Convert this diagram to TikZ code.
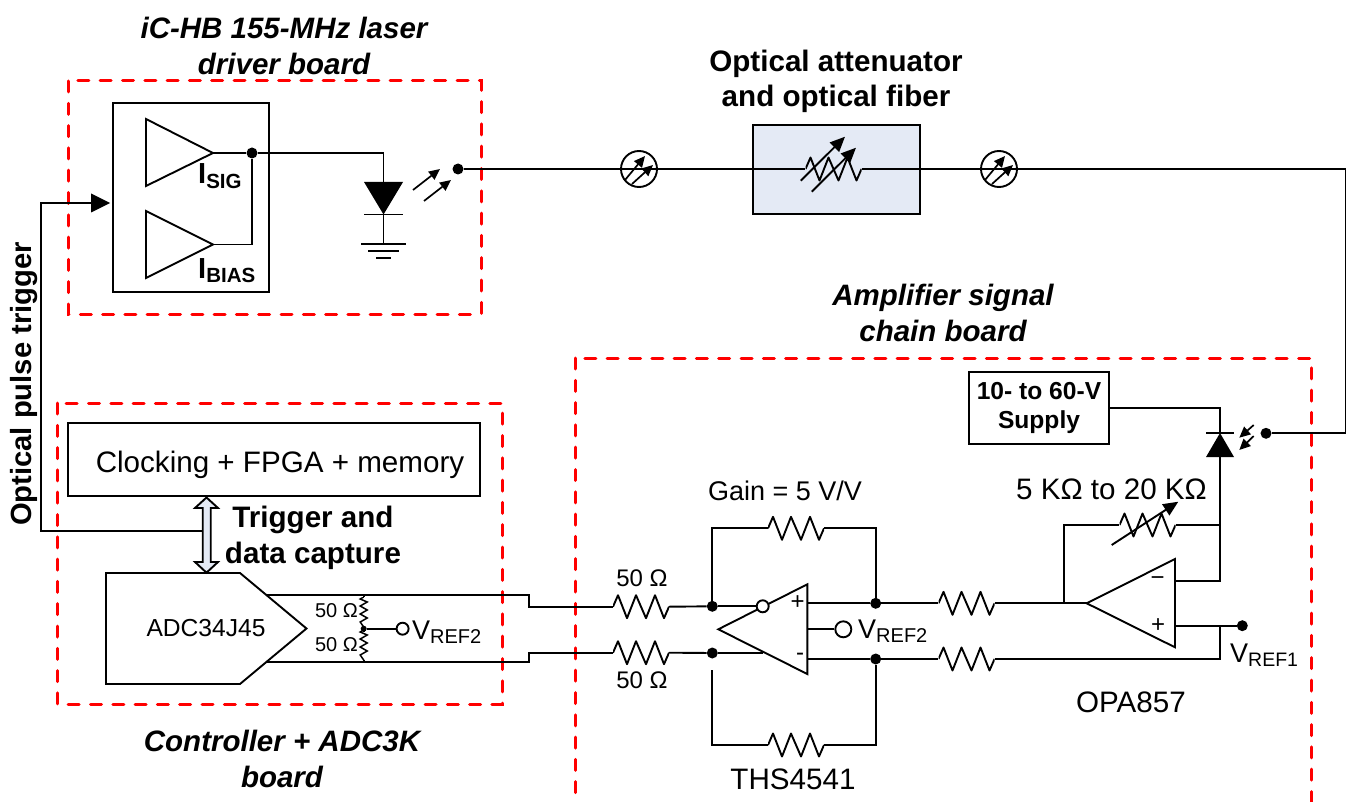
\documentclass[tikz,border=0pt]{standalone}
\usepackage{fontspec}
\setmainfont{Liberation Sans}
\usetikzlibrary{arrows.meta,positioning}
\definecolor{boardred}{RGB}{255,0,0}
\definecolor{paleblue}{RGB}{228,234,245}
\newcommand{\lowtxt}[2]{\raisebox{-0.15em}{\fontsize{#1}{#1}\selectfont #2}}
\tikzset{
  wire/.style={draw=black,line width=1.9pt,line join=miter},
  board/.style={draw=boardred,line width=3pt,line cap=round,dash pattern=on 11pt off 11.3pt},
  blockbox/.style={draw=black,line width=1.9pt},
  wiredot/.style={circle,fill=black,inner sep=0pt,minimum size=#1},
  wiredot/.default=11pt,
  opendot/.style={circle,draw=black,fill=white,line width=1.9pt,inner sep=0pt,minimum size=#1},
  lbl/.style={font=\fontsize{24}{24}\selectfont,inner sep=0pt,text=black},
  boldlbl/.style={font=\fontsize{29.6}{35.5}\selectfont\bfseries,align=center,inner sep=0pt},
  titlelbl/.style={font=\fontsize{29.5}{36}\selectfont\bfseries\itshape,align=center,inner sep=0pt},
  ray/.style={line width=1.7pt,-{Triangle[length=11pt,width=10pt]}},
  rayb/.style={line width=1.9pt,-{Triangle[length=15pt,width=13pt]}},
  resh/.style={inner sep=0pt,minimum width=56pt,minimum height=27pt,
    path picture={\draw[wire,line join=round] (path picture bounding box.west) -- ++(5,-11.5)
      -- ++(9,23) -- ++(9,-23) -- ++(10,23) -- ++(9,-23) -- ++(9,23) -- ++(5,-11.5);}},
  resv/.style={inner sep=0pt,minimum width=14pt,minimum height=30pt,
    path picture={\draw[line width=1.5pt] (path picture bounding box.north) -- ++(-3.5,2)
      -- ++(7,3) -- ++(-7,4) -- ++(7,4) -- ++(-7,4) -- ++(7,4) -- ++(-7,4) -- ++(3.5,5);}}
}
\begin{document}
\begin{tikzpicture}[x=1pt,y=-1pt,line cap=butt]
\useasboundingbox (0,0) rectangle (1348,802);
% boards
\draw[board] (68,81) rectangle (481,314);
\draw[board] (57,403) rectangle (502,704);
\draw[board] (575,358) rectangle (1311,803.2);
\node[titlelbl] (titleDriver) at (284,46) {iC-HB 155-MHz laser\\driver board};
\node[titlelbl] (titleChain) at (943,313) {Amplifier signal\\chain board};
\node[titlelbl] (titleCtrl) at (282,758.5) {Controller + ADC3K\\board};
\node[boldlbl] (titleAtten) at (836,81.5) {Optical attenuator\\and optical fiber};
% laser driver
\node[blockbox,minimum width=156pt,minimum height=189pt,inner sep=0pt] (drvBox) at (191,197.5) {};
\coordinate (sigOut) at (213,153);
\coordinate (biasOut) at (213,244.5);
\draw[blockbox,line join=miter] (146,119) -- (146,186) -- (sigOut) -- cycle;
\draw[blockbox,line join=miter] (146,211) -- (146,278) -- (biasOut) -- cycle;
\node[wiredot] (sigDot) at (252,153) {};
\node[lbl,anchor=base west,font=\fontsize{29}{29}\selectfont\bfseries] (isigLbl) at (198,184) {I\lowtxt{20.5}{SIG}};
\node[lbl,anchor=base west,font=\fontsize{29}{29}\selectfont\bfseries] (ibiasLbl) at (198,278) {I\lowtxt{20.5}{BIAS}};
\coordinate (laserTop) at (383.5,182);
\coordinate (laserBar) at (383.5,214.5);
\coordinate (gndTop) at (383.5,244);
\draw[wire] (sigOut) -- (sigDot);
\draw[wire] (sigDot) -- (laserTop |- sigDot) -- (laserTop);
\draw[wire] (biasOut) -| (sigDot);
\fill[black] (364,182) -- (403,182) -- (laserBar) -- cycle;
\draw[wire] (laserBar) -- (gndTop);
\draw[wire] (364,214.5) -- (403,214.5);
\draw[wire] (361,244) -- (406,244);
\draw[wire] (368,251) -- (399,251);
\draw[wire] (376,258) -- (391,258);
\draw[ray] (413,190) -- (440,169);
\draw[ray] (424,201) -- (451,180);
\node[wiredot] (laserDot) at (458,169) {};
% fiber path
\node[blockbox,fill=paleblue,minimum width=167pt,minimum height=89pt,inner sep=0pt] (attBox) at (836.5,169.5) {};
\node[resh] (attRes) at (833.5,169) {};
\node[opendot=36pt,fill=none] (fiberA) at (639,169) {};
\node[opendot=36pt,fill=none] (fiberB) at (999,169) {};
\coordinate (fiberCorner) at (1345.5,169);
\draw[wire] (laserDot) -- (attRes);
\draw[wire] (attRes) -- (fiberCorner);
\foreach \nm in {fiberA,fiberB}{
  \draw[ray] ([shift={(-14,11)}]\nm.center) -- ([shift={(6,-13)}]\nm.center);
  \draw[ray] ([shift={(-7,15)}]\nm.center) -- ([shift={(14,-4)}]\nm.center);
}
\draw[rayb] (800.7,180.7) -- (845,136.7);
\draw[rayb] (811.7,191.7) -- (856,147.7);
% controller
\node[blockbox,minimum width=412pt,minimum height=73pt,inner sep=0pt] (fpgaBox) at (274,459.5) {};
\node[lbl,font=\fontsize{29.6}{30}\selectfont] (fpgaLbl) at (280,465) {Clocking + FPGA + memory};
\coordinate (adcTip) at (306.5,628.5);
\draw[blockbox,line join=miter] (106,573) -- (240,573) -- (adcTip) -- (240,684) -- (106,684) -- cycle;
\node[lbl,font=\fontsize{24.6}{25}\selectfont] (adcLbl) at (206,628.5) {ADC34J45};
\coordinate (adcP) at (266,595);
\coordinate (adcN) at (266,662);
\draw[blockbox,fill=paleblue,line join=miter] (206.5,497.5) -- (218,508) -- (210.7,508) -- (210.7,562) -- (218,562)
  -- (206.5,572.7) -- (195,562) -- (202.7,562) -- (202.7,508) -- (195,508) -- cycle;
\node[boldlbl] (trigLbl) at (313,538) {Trigger and\\data capture};
% trigger line
\coordinate (trigStart) at (202.7,531);
\coordinate (trigBend) at (41,531);
\coordinate (trigEnd) at (95,203);
\draw[wire] (trigStart) -- (trigBend) |- (trigEnd);
\fill[black] (110,203) -- (91,193.5) -- (91,212.5) -- cycle;
\node[boldlbl,rotate=90,font=\fontsize{29.2}{35}\selectfont\bfseries] (trigText) at (24.5,384) {Optical pulse trigger};
% termination
\node[wiredot=6pt] (termDot) at (363.7,628.7) {};
\node[resv] (termA) at (363.7,612) {};
\node[resv] (termB) at (363.7,645) {};
\node[opendot=12pt] (termRef) at (402.6,628.7) {};
\draw[wire] (termDot) -- (termRef);
\draw[wire] (termA.north) -- (363.7,595);
\draw[wire] (termB.south) -- (363.7,662);
\draw[wire] (termA.south) -- (termDot);
\draw[wire] (termB.north) -- (termDot);
\node[lbl,anchor=east,font=\fontsize{20}{20}\selectfont] (termAlbl) at (358,611) {50 Ω};
\node[lbl,anchor=east,font=\fontsize{20}{20}\selectfont] (termBlbl) at (358,645) {50 Ω};
\node[lbl,anchor=base west,font=\fontsize{27}{27}\selectfont] (termRefLbl) at (412,639) {V\lowtxt{20}{REF2}};
% input resistors
\node[resh] (inResP) at (641,606.7) {};
\node[resh] (inResN) at (641,652.7) {};
\node[wiredot] (ampInP) at (712.3,606.3) {};
\node[wiredot] (ampInN) at (712.3,653) {};
\draw[wire] (adcP) -- (529,595) -- (529,606.7) -- (inResP.west);
\draw[wire] (adcN) -- (529,662) -- (529,652.7) -- (inResN.west);
\draw[wire] (inResP.east) -- (ampInP);
\draw[wire] (inResN.east) -- (ampInN);
\node[lbl] (inPlbl) at (642,578) {50 Ω};
\node[lbl] (inNlbl) at (642,680) {50 Ω};
% THS4541
\draw[blockbox,line join=miter] (718.3,629.3) -- (807.3,584.3) -- (807.3,674) -- cycle;
\node[opendot=12pt] (ampBub) at (762.7,606.3) {};
\coordinate (ampNin) at (763,653);
\draw[wire] (ampInP) -- (ampBub);
\draw[wire] (ampInN) -- (ampNin);
\node[lbl] (ampPlus) at (797.5,603) {+};
\node[lbl] (ampMinus) at (800,657) {-};
\coordinate (ampOutP) at (807.3,603.3);
\coordinate (ampOutN) at (807.3,659);
\node[wiredot] (outP) at (875.7,603.3) {};
\node[wiredot] (outN) at (875.7,659) {};
\draw[wire] (ampOutP) -- (outP);
\draw[wire] (ampOutN) -- (outN);
\node[opendot=16pt] (ampRef) at (843.3,629.3) {};
\draw[wire] (807.3,629.3) -- (ampRef);
\node[lbl,anchor=base west,font=\fontsize{27}{27}\selectfont] (ampRefLbl) at (858,638.5) {V\lowtxt{20}{REF2}};
% feedback
\node[resh] (fbTop) at (796,528.3) {};
\node[resh] (fbBot) at (796,745) {};
\coordinate (fbBotStart) at (712.3,670);
\draw[wire] (ampInP) |- (fbTop.west);
\draw[wire] (fbTop.east) -| (outP);
\draw[wire] (fbBotStart) |- (fbBot.west);
\draw[wire] (fbBot.east) -| (outN);
\node[lbl,font=\fontsize{27}{27}\selectfont] (gainLbl) at (785,491) {Gain = 5 V/V};
\node[lbl,font=\fontsize{29.6}{30}\selectfont] (thsLbl) at (793,779) {THS4541};
% OPA857
\node[resh] (midResP) at (966.5,603.3) {};
\node[resh] (midResN) at (966.5,659) {};
\coordinate (opaIn) at (1086.7,603.3);
\coordinate (opaJoin) at (1064,603.3);
\coordinate (opaOut) at (1175,580.7);
\coordinate (opaRef) at (1175,625.7);
\coordinate (pdNode) at (1220,525);
\draw[blockbox,line join=miter] (opaIn) -- (1175,559) -- (1175,647.3) -- cycle;
\draw[wire] (outP) -- (midResP);
\draw[wire] (outN) -- (midResN);
\draw[wire] (midResP) -- (opaIn);
\node[wiredot] (refDot) at (1242.3,625.7) {};
\coordinate (refTee) at (1220,625.7);
\draw[wire] (opaRef) -- (refDot);
\draw[wire] (midResN.east) -| (refTee);
\node[lbl] (opaMinus) at (1157.7,580.7) {−};
\node[lbl] (opaPlus) at (1158,625.3) {+};
\node[lbl,anchor=base west,font=\fontsize{27}{27}\selectfont] (opaRefLbl) at (1230,662) {V\lowtxt{19.5}{REF1}};
\node[lbl,font=\fontsize{29.6}{30}\selectfont] (opaLbl) at (1131,702) {OPA857};
\node[resh] (fbVar) at (1147.5,525) {};
\draw[wire] (opaJoin) |- (fbVar.west);
\draw[wire] (fbVar.east) -- (pdNode);
\draw[rayb] (1111.7,545) -- (1178.3,501.7);
\node[lbl,font=\fontsize{29.6}{30}\selectfont] (fbVarLbl) at (1111.5,489) {5 KΩ to 20 KΩ};
% photodiode
\node[blockbox,minimum width=140pt,minimum height=72pt,inner sep=0pt] (supBox) at (1039.2,408.3) {};
\node[font=\fontsize{24.6}{29}\selectfont\bfseries,align=center,inner sep=0pt] (supLbl) at (1039,408) {10- to 60-V\\Supply};
\coordinate (pdBar) at (1220,433);
\coordinate (pdBase) at (1220,457);
\draw[wire] (supBox.east) -| (pdBar);
\draw[wire] (1206,433) -- (1234,433);
\fill[black] (pdBar) -- (1234,457) -- (1206,457) -- cycle;
\draw[wire] (pdBase) |- (opaOut);
\draw[ray] (1253.7,425) -- (1239.3,437.7);
\draw[ray] (1253.7,436) -- (1239.3,450);
\node[wiredot] (pdDot) at (1266,433.3) {};
\draw[wire] (pdDot) -| (fiberCorner);
\end{tikzpicture}
\end{document}
